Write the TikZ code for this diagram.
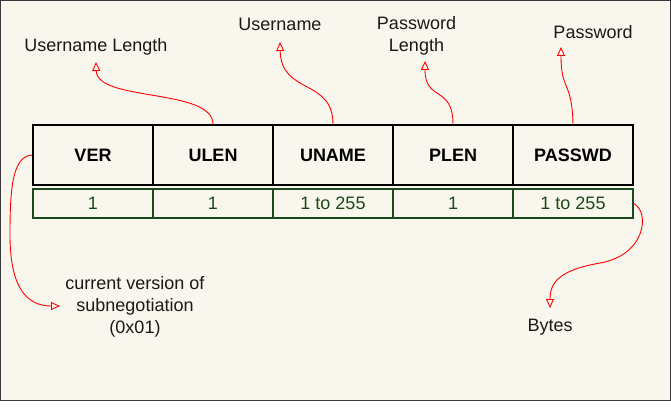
\documentclass[tikz,border=0pt]{standalone}
\usepackage{fontspec}
\setmainfont{Liberation Sans}
\usetikzlibrary{arrows.meta}
\definecolor{bgbeige}{HTML}{F9F7ED}
\definecolor{frameclr}{HTML}{36393D}
\definecolor{valgreen}{HTML}{1A4A1A}
\definecolor{arrred}{HTML}{FF0000}
\tikzset{
  hdrbox/.style={draw=black, line width=1.4pt, fill=bgbeige, minimum width=120pt, minimum height=60pt, inner sep=0pt, font=\fontsize{18pt}{22pt}\selectfont\bfseries, text=black},
  valbox/.style={draw=valgreen, line width=1.4pt, fill=bgbeige, minimum width=120pt, minimum height=29pt, inner sep=0pt, font=\fontsize{18pt}{22pt}\selectfont, text=valgreen},
  lbl/.style={inner sep=0pt, align=center, font=\fontsize{18pt}{22pt}\selectfont, text=black!90},
  redarr/.style={draw=arrred, line width=0.9pt, -{Triangle[open, length=9pt, width=8pt, line width=0.9pt]}}
}
\begin{document}
\begin{tikzpicture}[x=1pt,y=-1pt]
\useasboundingbox (0,0) rectangle (671,409);
\fill[white] (0,0) rectangle (671,409);
\draw[fill=bgbeige, draw=frameclr, line width=1.2pt] (0.6,0.6) rectangle (670.2,400.4);
% header row
\node[hdrbox] (ver) at (93,155) {VER};
\node[hdrbox] (ulen) at (213,155) {ULEN};
\node[hdrbox] (uname) at (333,155) {UNAME};
\node[hdrbox] (plen) at (453,155) {PLEN};
\node[hdrbox] (passwd) at (573,155) {PASSWD};
% value row
\node[valbox] (v1) at (93,203.5) {1};
\node[valbox] (v2) at (213,203.5) {1};
\node[valbox] (v3) at (333,203.5) {1 to 255};
\node[valbox] (v4) at (453,203.5) {1};
\node[valbox] (v5) at (573,203.5) {1 to 255};
% labels
\node[lbl, anchor=base] (lulen) at (96,51.5) {Username Length};
\node[lbl, anchor=base] (luname) at (280,31) {Username};
\node[lbl, anchor=base] (lplen) at (416.5,52) {Password\\Length};
\node[lbl, anchor=base] (lpass) at (593,39) {Password};
\node[lbl, anchor=base] (lver) at (135,333) {current version of\\subnegotiation\\(0x01)};
\node[lbl, anchor=base] (lbytes) at (550,331) {Bytes};
% arrow tips
\coordinate (tulen) at (96,62);
\coordinate (tuname) at (280,42);
\coordinate (tplen) at (425,61);
\coordinate (tpass) at (561,47);
\coordinate (tver) at (60,306);
\coordinate (tbytes) at (550,308);
% connectors
\draw[redarr] (ulen.north) .. controls (213,88) and (97,102) .. (tulen);
\draw[redarr] (uname.north) .. controls (333,78) and (281,95) .. (tuname);
\draw[redarr] (plen.north) .. controls (453,85) and (425,102) .. (tplen);
\draw[redarr] (passwd.north) .. controls (572,80) and (561,92) .. (tpass);
\draw[redarr] (ver.west) .. controls (12,156) and (10,190) .. (10,235) .. controls (10,285) and (25,306) .. (tver);
\draw[redarr] (v5.east) .. controls (650,212) and (646,255) .. (600,263) .. controls (560,270) and (550,282) .. (tbytes);
\end{tikzpicture}
\end{document}
